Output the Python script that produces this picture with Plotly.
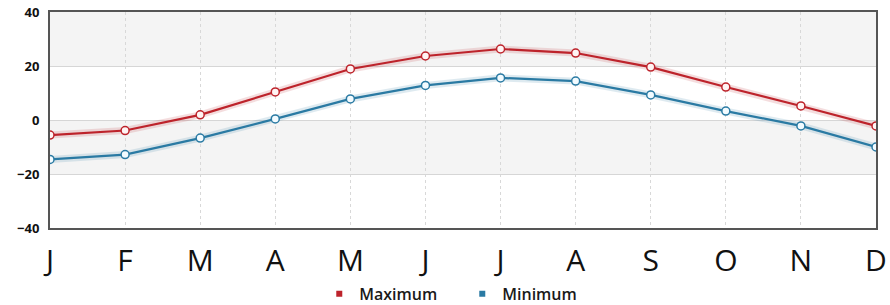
import plotly.graph_objects as go

months = ["J", "F", "M", "A", "M", "J", "J", "A", "S", "O", "N", "D"]
maximum = [-5.6, -3.9, 1.9, 10.4, 18.9, 23.7, 26.3, 24.8, 19.6, 12.2, 5.2, -2.2]
minimum = [-14.6, -12.8, -6.7, 0.4, 7.8, 12.8, 15.6, 14.4, 9.3, 3.3, -2.2, -10.0]
y_ticks = [-40, -20, 0, 20, 40]
bands = [(20, 40), (-20, 0)]

red = "#bd232b"
blue = "#2a7aa3"
x = list(range(len(months)))

fig = go.Figure()
for vals, col in [(maximum, red), (minimum, blue)]:
    fig.add_trace(go.Scatter(x=x, y=vals, mode="lines", line=dict(color=col, width=7),
                             opacity=0.15, hoverinfo="skip", showlegend=False))
for name, vals, col, fill in [("Maximum", maximum, red, "#fff4f4"), ("Minimum", minimum, blue, "#f2fbff")]:
    fig.add_trace(go.Scatter(x=x, y=vals, mode="lines+markers", name=name, showlegend=False,
                             line=dict(color=col, width=2.2),
                             marker=dict(symbol="circle", size=8, color=fill,
                                         line=dict(color=col, width=1.5))))
    fig.add_trace(go.Scatter(x=[None], y=[None], mode="markers", name=name,
                             marker=dict(symbol="square", size=6, color=col)))

for lo, hi in bands:
    fig.add_shape(type="rect", xref="paper", yref="y", x0=0, x1=1, y0=lo, y1=hi,
                  fillcolor="#f4f4f4", line_width=0, layer="below")

fig.update_layout(
    width=890, height=305,
    margin=dict(l=50, r=14, t=12, b=77, autoexpand=False),
    plot_bgcolor="white", paper_bgcolor="white",
    font=dict(family="Open Sans", color="#111"),
    legend=dict(orientation="h", x=0.326, xanchor="left", y=-0.305, yanchor="middle",
                font=dict(size=16, color="#1a1a1a", weight=600), itemwidth=30, tracegroupgap=0,
                entrywidth=98, bgcolor="rgba(0,0,0,0)"),
    showlegend=True,
)
fig.update_xaxes(range=[0, 11], tickmode="array", tickvals=x, ticktext=months,
                 showgrid=True, gridcolor="#d8d8d8", griddash="dot", gridwidth=1,
                 tickfont=dict(size=30, color="#111"), ticks="", ticklabelstandoff=5,
                 showline=True, linecolor="#555", linewidth=2, mirror=True, zeroline=False)
fig.update_yaxes(range=[-40, 40], tickmode="array", tickvals=y_ticks,
                 showgrid=True, gridcolor="#d6d6d6", gridwidth=1,
                 tickfont=dict(size=13, color="#111", weight="bold"), ticks="", ticklabelstandoff=6,
                 showline=True, linecolor="#555", linewidth=2, mirror=True, zeroline=False)

fig.write_html("out.html", config={"displayModeBar": False},
               post_script="document.body.style.margin='0px';document.body.style.overflow='hidden';")
